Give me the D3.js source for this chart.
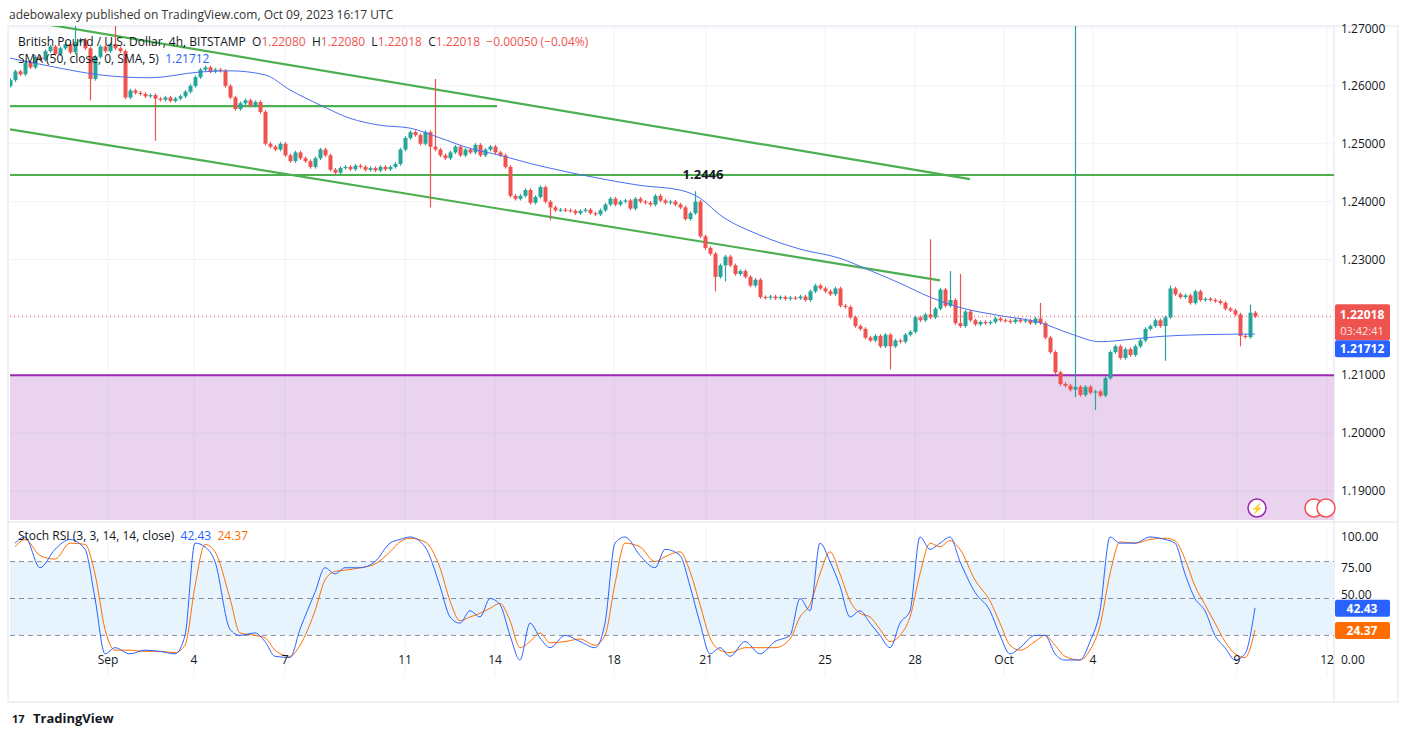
<!DOCTYPE html>
<html><head><meta charset="utf-8">
<script src="https://cdn.jsdelivr.net/npm/d3@7"></script>
<style>body{margin:0;background:#fff;font-family:"Open Sans",Roboto,sans-serif}</style>
</head><body><svg id="c" width="1408" height="737"></svg>
<script>
const closes=[
1.2610,1.2625,1.2620,1.2640,1.2632,1.2650,1.2645,1.2660,1.2668,1.2655,
1.2665,1.2672,1.2658,1.2676,1.2680,1.2665,1.2612,1.2650,1.2668,1.2660,
1.2672,1.2665,1.2660,1.2580,1.2592,1.2588,1.2586,1.2582,1.2584,1.2578,
1.2576,1.2580,1.2574,1.2578,1.2582,1.2590,1.2600,1.2615,1.2628,1.2632,
1.2625,1.2628,1.2626,1.2600,1.2580,1.2560,1.2570,1.2575,1.2566,1.2572,
1.2555,1.2500,1.2495,1.2490,1.2500,1.2480,1.2470,1.2485,1.2475,1.2470,
1.2460,1.2475,1.2490,1.2480,1.2455,1.2450,1.2458,1.2460,1.2456,1.2462,
1.2460,1.2455,1.2458,1.2454,1.2460,1.2456,1.2460,1.2465,1.2490,1.2510,
1.2520,1.2515,1.2500,1.2520,1.2495,1.2490,1.2480,1.2475,1.2485,1.2495,
1.2480,1.2490,1.2485,1.2498,1.2480,1.2490,1.2495,1.2485,1.2480,1.2460,
1.2410,1.2405,1.2410,1.2420,1.2398,1.2408,1.2425,1.2400,1.2390,1.2385,
1.2386,1.2385,1.2384,1.2380,1.2384,1.2386,1.2380,1.2378,1.2385,1.2395,
1.2405,1.2395,1.2400,1.2402,1.2388,1.2405,1.2400,1.2398,1.2395,1.2410,
1.2402,1.2398,1.2400,1.2395,1.2390,1.2370,1.2380,1.2400,1.2340,1.2320,
1.2310,1.2270,1.2290,1.2305,1.2290,1.2275,1.2280,1.2270,1.2255,1.2265,
1.2235,1.2234,1.2236,1.2233,1.2235,1.2232,1.2234,1.2233,1.2236,1.2230,
1.2245,1.2255,1.2250,1.2245,1.2240,1.2250,1.2220,1.2218,1.2200,1.2185,
1.2180,1.2165,1.2160,1.2168,1.2150,1.2170,1.2150,1.2160,1.2158,1.2170,
1.2175,1.2200,1.2195,1.2205,1.2200,1.2215,1.2248,1.2220,1.2230,1.2190,
1.2185,1.2210,1.2195,1.2188,1.2192,1.2190,1.2192,1.2198,1.2195,1.2194,
1.2192,1.2196,1.2193,1.2195,1.2190,1.2198,1.2190,1.2165,1.2140,1.2105,
1.2085,1.2082,1.2075,1.2080,1.2066,1.2080,1.2070,1.2072,1.2065,1.2095,
1.2140,1.2150,1.2130,1.2145,1.2135,1.2150,1.2160,1.2180,1.2185,1.2195,
1.2185,1.2200,1.2250,1.2240,1.2235,1.2238,1.2225,1.2245,1.2230,1.2232,
1.2230,1.2228,1.2225,1.2215,1.2212,1.2205,1.2168,1.2166,1.2208,1.22018];
const firstOpen=1.2600;
const wicks=[[13,1.2705,null],[16,null,1.2575],[21,1.2705,null],[29,null,1.2505],[84,null,1.2390],[85,1.2612,null],
[108,null,1.2368],[137,1.2418,null],[141,null,1.2245],[143,null,1.2262],[176,null,1.2110],[184,1.2335,null],
[188,1.2280,null],[190,1.2275,null],[206,1.2225,null],[213,1.2730,1.2062],[217,null,1.2040],[231,null,1.2125],
[232,1.2255,null],[246,null,1.2150],[248,1.2222,null]];
const smaBars=[0,8,18,28,38,44,51,56,62,68,74,80,86,92,98,104,110,118,126,134,138,142,150,158,166,172,178,184,190,198,206,212,218,224,230,238,249];
const smaVals=[1.2648,1.2634,1.2619,1.2614,1.2624,1.2626,1.2619,1.2593,1.2567,1.2544,1.2532,1.2527,1.2510,1.2492,1.2480,1.2466,1.2454,1.2440,1.2428,1.2420,1.2406,1.2377,1.2342,1.2318,1.2302,1.2281,1.2259,1.2235,1.2217,1.2203,1.2191,1.2172,1.2158,1.2162,1.2167,1.2170,1.21712];
const stochBars=[1,3,6,9,12,15,17,19,21,24,27,30,33,35,37,39,41,44,46,49,51,53,56,58,61,63,65,67,70,73,76,78,80,83,86,88,90,92,94,96,98,100,102,104,106,108,111,114,117,119,121,123,126,129,131,134,136,138,140,142,144,147,150,153,156,158,160,162,164,166,168,170,172,174,176,178,180,182,184,186,188,190,193,196,198,200,202,205,207,209,211,214,216,218,220,222,225,228,231,233,235,237,239,241,243,245,247,249];
const stochK=[95,100,75,90,98,90,50,5,10,5,8,7,5,20,95,92,80,25,20,22,15,3,2,25,55,75,70,75,75,80,95,98,100,92,60,35,30,40,35,50,45,20,0,30,18,10,20,15,10,30,95,100,85,75,90,85,60,30,5,10,3,15,5,15,20,50,40,95,80,60,35,40,30,20,10,30,40,100,90,95,100,80,55,40,20,5,10,20,20,5,0,0,15,40,100,95,95,100,98,95,70,50,40,20,10,0,5,42.43];
const stochD=[92,98,85,82,95,94,70,25,8,8,7,7,6,12,60,94,88,50,22,20,18,8,3,12,40,65,72,73,75,78,88,96,99,96,75,48,32,35,38,42,46,32,10,15,22,14,15,17,12,20,62,95,92,80,84,88,72,45,18,8,6,10,10,10,17,35,45,70,88,70,48,38,35,25,15,20,35,70,95,92,97,90,65,48,30,12,8,15,20,12,3,0,8,28,70,96,95,98,99,97,82,60,45,30,15,5,2,24.37];
const priceTicks=[1.19,1.20,1.21,1.22,1.23,1.24,1.25,1.26,1.27];
const stochTicks=[0,25,50,75,100];
const dateTicks=[[19.6,"Sep"],[36.8,"4"],[55,"7"],[79,"11"],[97,"14"],[120.8,"18"],[139.2,"21"],[163,"25"],[181,"28"],[198.8,"Oct"],[216.6,"4"],[245.4,"9"],[263.4,"12"]];
const channelUpper=[[0,1.2717],[192,1.2439]];
const channelLower=[[0,1.2525],[186,1.2264]];
const hLines=[[1.2565,0,97.4],[1.2446,0,265]];
const support=1.2100;

const svg=d3.select("#c");
const L=10,R=1334,PT=28,PB=520,ST=526,SB=676;
const x=d3.scaleLinear().domain([0,249]).range([10,1255]);
const y=d3.scaleLinear().domain([1.19,1.27]).range([491,28]);
const ys=d3.scaleLinear().domain([0,100]).range([660,537]);
const grid="#f0f3fa";
svg.append("rect").attr("x",8).attr("y",26).attr("width",1390).attr("height",676).attr("fill","none").attr("stroke","#e0e3eb");
svg.append("line").attr("x1",8).attr("x2",1398).attr("y1",PB+2).attr("y2",PB+2).attr("stroke","#e0e3eb");
svg.append("line").attr("x1",R).attr("x2",R).attr("y1",26).attr("y2",702).attr("stroke","#e0e3eb");
svg.append("clipPath").attr("id","cp").append("rect").attr("x",L).attr("y",PT-2).attr("width",R-L).attr("height",PB-PT+2);
svg.append("clipPath").attr("id","cs").append("rect").attr("x",L).attr("y",ST).attr("width",R-L).attr("height",SB-ST);
const gp=svg.append("g").attr("clip-path","url(#cp)");
const gs=svg.append("g").attr("clip-path","url(#cs)");
dateTicks.forEach(d=>{[gp,gs].forEach(g=>g.append("line").attr("x1",x(d[0])).attr("x2",x(d[0])).attr("y1",0).attr("y2",737).attr("stroke",grid));});
priceTicks.forEach(p=>gp.append("line").attr("x1",L).attr("x2",R).attr("y1",y(p)).attr("y2",y(p)).attr("stroke",grid));
gp.append("rect").attr("x",L).attr("y",y(support)).attr("width",R-L).attr("height",PB-y(support)).attr("fill","#e9d3ef");
dateTicks.forEach(d=>gp.append("line").attr("x1",x(d[0])).attr("x2",x(d[0])).attr("y1",y(support)).attr("y2",PB).attr("stroke","#e0cbe6"));
priceTicks.filter(p=>p<support).forEach(p=>gp.append("line").attr("x1",L).attr("x2",R).attr("y1",y(p)).attr("y2",y(p)).attr("stroke","#e0cbe6"));
gp.append("line").attr("x1",L).attr("x2",R).attr("y1",y(support)).attr("y2",y(support)).attr("stroke","#9c27b0").attr("stroke-width",2);
const gl=(a,b)=>gp.append("line").attr("x1",x(a[0])).attr("y1",y(a[1])).attr("x2",x(b[0])).attr("y2",y(b[1])).attr("stroke","#4caf50").attr("stroke-width",2.2);
gl(channelUpper[0],channelUpper[1]);gl(channelLower[0],channelLower[1]);
hLines.forEach(h=>gl([h[1],h[0]],[h[2],h[0]]));
svg.append("text").attr("x",703).attr("y",179).attr("text-anchor","middle").attr("font-size",13).attr("font-weight","bold").attr("fill","#131722").text("1.2446");
const wmap={};wicks.forEach(w=>wmap[w[0]]=w);
closes.forEach((c,i)=>{
  const o=i===0?firstOpen:closes[i-1];
  let hi=Math.max(o,c)+0.0003,lo=Math.min(o,c)-0.0003;
  if(wmap[i]){if(wmap[i][1]!=null)hi=wmap[i][1];if(wmap[i][2]!=null)lo=wmap[i][2];}
  const col=c>=o?"#26a69a":"#ef5350";
  const cx=Math.round(x(i))+0.5;
  gp.append("line").attr("x1",cx).attr("x2",cx).attr("y1",y(hi)).attr("y2",y(lo)).attr("stroke",col).attr("stroke-width",1.2);
  const t=y(Math.max(o,c)),b=y(Math.min(o,c));
  gp.append("rect").attr("x",cx-2).attr("y",t).attr("width",4).attr("height",Math.max(1,b-t)).attr("fill",col);
});
gp.append("path").datum(smaBars.map((b,i)=>[b,smaVals[i]])).attr("fill","none").attr("stroke","#4a6ff0").attr("stroke-width",1)
 .attr("d",d3.line().x(d=>x(d[0])).y(d=>y(d[1])).curve(d3.curveMonotoneX));
const last=closes[closes.length-1];
gp.append("line").attr("x1",L).attr("x2",R).attr("y1",y(last)).attr("y2",y(last)).attr("stroke","#ef5350").attr("stroke-dasharray","1,3");
gs.append("rect").attr("x",L).attr("y",ys(80)).attr("width",R-L).attr("height",ys(20)-ys(80)).attr("fill","#e8f4fd");
[80,50,20].forEach(v=>gs.append("line").attr("x1",L).attr("x2",R).attr("y1",ys(v)).attr("y2",ys(v)).attr("stroke","#8a8e99").attr("stroke-dasharray","5,4"));
const sl=d3.line().x(d=>x(d[0])).y(d=>ys(d[1])).curve(d3.curveMonotoneX);
gs.append("path").datum(stochBars.map((b,i)=>[b,stochD[i]])).attr("fill","none").attr("stroke","#ff6d00").attr("stroke-width",1).attr("d",sl);
gs.append("path").datum(stochBars.map((b,i)=>[b,stochK[i]])).attr("fill","none").attr("stroke","#2962ff").attr("stroke-width",1).attr("d",sl);
const tx=(xx,yy,t,o)=>{o=o||{};const e=svg.append("text").attr("x",xx).attr("y",yy).attr("font-size",o.fs||12).attr("fill",o.c||"#131722").text(t);if(o.a)e.attr("text-anchor",o.a);if(o.w)e.attr("font-weight",o.w);return e;};
const smaLast=smaVals[smaVals.length-1];
const kl=stochK[stochK.length-1],dl=stochD[stochD.length-1];
priceTicks.forEach(p=>{const yy=y(p);if(yy>y(last)-16&&yy<y(smaLast)+14)return;tx(1341,Math.max(yy+4,33),p.toFixed(5));});
stochTicks.forEach(v=>{const yy=ys(v);if(Math.abs(yy-ys(kl))<7||Math.abs(yy-ys(dl))<10)return;tx(1341,yy+(Math.abs(yy-ys(kl))<14?0:4),v.toFixed(2));});
dateTicks.forEach(d=>tx(x(d[0]),664,d[1],{a:"middle"}));
svg.append("rect").attr("x",1335).attr("y",y(last)-12).attr("width",55).attr("height",36).attr("rx",2).attr("fill","#ef5350");
tx(1362,y(last)+3,last.toFixed(5),{a:"middle",c:"#fff",w:"bold"});
tx(1362,y(last)+19,"03:42:41",{a:"middle",c:"#fde0df",fs:11});
svg.append("rect").attr("x",1335).attr("y",y(last)+24).attr("width",55).attr("height",17).attr("rx",2).attr("fill","#2962ff");
tx(1362,y(last)+37,smaLast.toFixed(5),{a:"middle",c:"#fff",w:"bold"});
svg.append("rect").attr("x",1335).attr("y",ys(kl)-8).attr("width",55).attr("height",17).attr("rx",2).attr("fill","#2962ff");
tx(1362,ys(kl)+5,kl.toFixed(2),{a:"middle",c:"#fff",w:"bold"});
svg.append("rect").attr("x",1335).attr("y",ys(dl)-8).attr("width",55).attr("height",17).attr("rx",2).attr("fill","#ff6d00");
tx(1362,ys(dl)+5,dl.toFixed(2),{a:"middle",c:"#fff",w:"bold"});
tx(9,19,"adebowalexy published on TradingView.com, Oct 09, 2023 16:17 UTC",{c:"#333"});
const lg=svg.append("text").attr("x",18).attr("y",46).attr("font-size",12).attr("xml:space","preserve");
[["British Pound / U.S. Dollar, 4h, BITSTAMP  O","#131722"],["1.22080","#ef5350"],["  H","#131722"],["1.22080","#ef5350"],["  L","#131722"],["1.22018","#ef5350"],["  C","#131722"],["1.22018  −0.00050 (−0.04%)","#ef5350"]]
 .forEach(s=>lg.append("tspan").attr("fill",s[1]).text(s[0]));
const l2=svg.append("text").attr("x",18).attr("y",63).attr("font-size",12).attr("xml:space","preserve");
l2.append("tspan").attr("fill","#131722").text("SMA (50, close, 0, SMA, 5)  ");
l2.append("tspan").attr("fill","#2962ff").text("1.21712");
const l3=svg.append("text").attr("x",18).attr("y",540).attr("font-size",12).attr("xml:space","preserve");
l3.append("tspan").attr("fill","#131722").text("Stoch RSI (3, 3, 14, 14, close)  ");
l3.append("tspan").attr("fill","#2962ff").text("42.43  ");
l3.append("tspan").attr("fill","#ff6d00").text("24.37");
svg.append("circle").attr("cx",1257).attr("cy",508).attr("r",9).attr("fill","#fff").attr("stroke","#9c27b0").attr("stroke-width",1.5);
tx(1257,512,"⚡",{a:"middle",c:"#9c27b0",fs:10});
svg.append("circle").attr("cx",1314).attr("cy",508).attr("r",9).attr("fill","#fff").attr("stroke","#ef5350").attr("stroke-width",1.5);
svg.append("circle").attr("cx",1326).attr("cy",508).attr("r",9).attr("fill","#fff").attr("stroke","#ef5350").attr("stroke-width",1.5);
tx(12,723,"17",{fs:11,w:"bold"});
tx(33,723,"TradingView",{fs:13,w:"bold",c:"#131722"});
</script></body></html>
